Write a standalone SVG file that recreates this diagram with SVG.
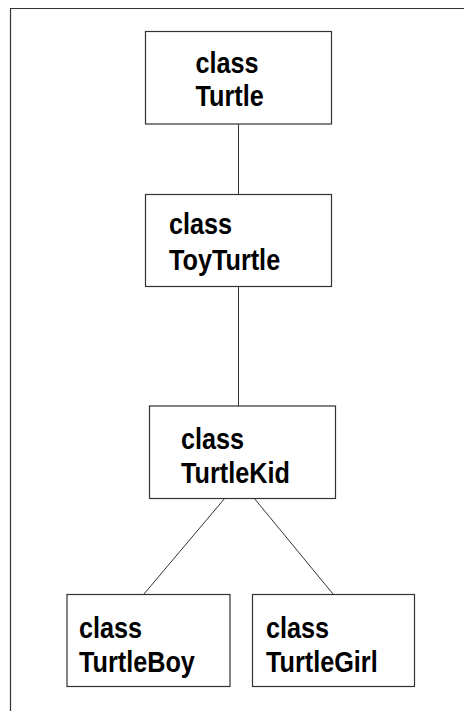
<svg xmlns="http://www.w3.org/2000/svg" width="464" height="711" viewBox="0 0 464 711">
  <style>
    .frame { fill: none; stroke: #333; stroke-width: 1.2; }
    .box { fill: #fff; stroke: #333; stroke-width: 1.2; }
    .edge { fill: none; stroke: #333; stroke-width: 1; }
    .label { font-family: "Liberation Sans", Arial, sans-serif; font-weight: bold; font-size: 29px; fill: #000; }
  </style>
  <rect width="464" height="711" fill="#fff"/>
  <!-- page frame (top and left edges) -->
  <path class="frame" d="M10.5,711 V8.5 H464"/>

  <g id="connectors">
    <line class="edge" x1="238.5" y1="124" x2="238.5" y2="194"/>
    <line class="edge" x1="238.5" y1="287" x2="238.5" y2="406"/>
    <line class="edge" x1="225" y1="498" x2="144" y2="594"/>
    <line class="edge" x1="254" y1="498" x2="333" y2="594"/>
  </g>

  <!-- labels use a horizontally narrowed bold sans -->
  <g id="turtle">
    <rect class="box" x="145.5" y="31.5" width="186" height="92.5"/>
    <text class="label" transform="matrix(0.87 0 0 1 195.5 72.5)">class</text>
    <text class="label" transform="matrix(0.87 0 0 1 195.5 106)">Turtle</text>
  </g>

  <g id="toyturtle">
    <rect class="box" x="145.5" y="194.5" width="186" height="92"/>
    <text class="label" transform="matrix(0.87 0 0 1 169 234)">class</text>
    <text class="label" transform="matrix(0.87 0 0 1 169 269.5)">ToyTurtle</text>
  </g>

  <g id="turtlekid">
    <rect class="box" x="149.5" y="406" width="186" height="92.5"/>
    <text class="label" transform="matrix(0.87 0 0 1 181 448.5)">class</text>
    <text class="label" transform="matrix(0.87 0 0 1 181 482.5)">TurtleKid</text>
  </g>

  <g id="turtleboy">
    <rect class="box" x="67" y="594.5" width="163" height="92"/>
    <text class="label" transform="matrix(0.87 0 0 1 79 637.5)">class</text>
    <text class="label" transform="matrix(0.87 0 0 1 79 671.5)">TurtleBoy</text>
  </g>

  <g id="turtlegirl">
    <rect class="box" x="252.5" y="594.5" width="162" height="92"/>
    <text class="label" transform="matrix(0.87 0 0 1 266 637.5)">class</text>
    <text class="label" transform="matrix(0.87 0 0 1 266 671.5)">TurtleGirl</text>
  </g>
</svg>
